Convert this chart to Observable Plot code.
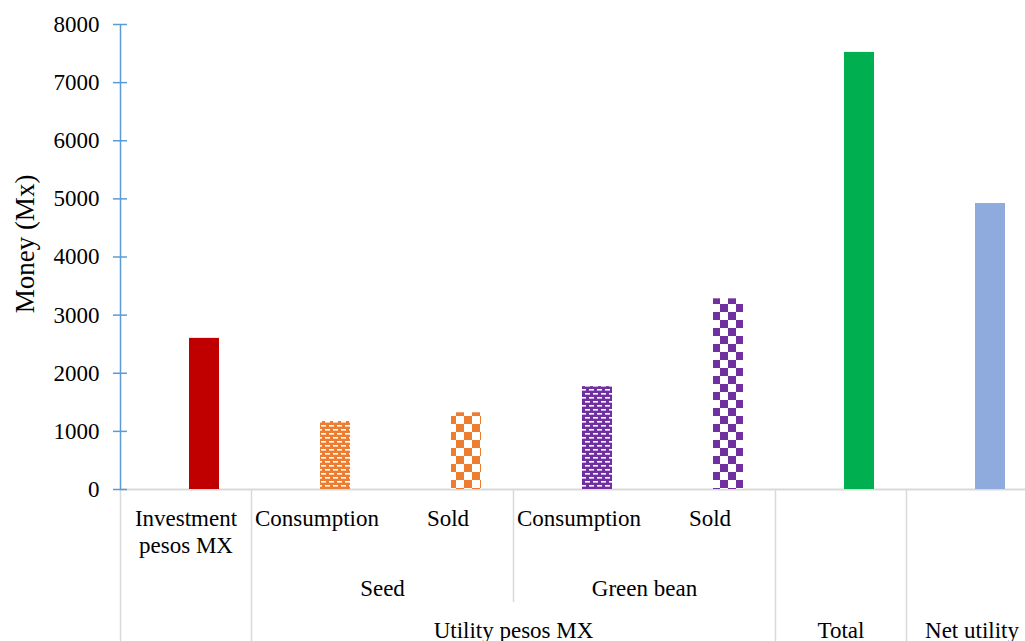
<!DOCTYPE html>
<html>
<head>
<meta charset="utf-8">
<script src="https://cdn.jsdelivr.net/npm/d3@7"></script>
<script src="https://cdn.jsdelivr.net/npm/@observablehq/plot@0.6"></script>
<style>
  html, body { margin: 0; padding: 0; background: white; overflow: hidden; }
  #chart { width: 1025px; height: 641px; }
</style>
</head>
<body>
<div id="chart"></div>
<script>
// ---- data ----
const categories = ["Investment pesos MX", "Seed Consumption", "Seed Sold", "Green bean Consumption", "Green bean Sold", "Total", "Net utility"];
const values = [2600, 1170, 1320, 1770, 3280, 7520, 4920];
const barFills = ["#C00000", "url(#brick-orange)", "url(#check-orange)", "url(#brick-purple)", "url(#check-purple)", "#00B050", "#8FAADC"];
const yTicks = [0, 1000, 2000, 3000, 4000, 5000, 6000, 7000, 8000];
const level1Labels = ["Investment\npesos MX", "Consumption", "Sold", "Consumption", "Sold"];
const level2Labels = ["Seed", "Green bean"];
const level2Start = [1, 3];
const level2End = [3, 5];
const level3Labels = ["Utility pesos MX", "Total", "Net utility"];
const level3Start = [1, 5, 6];
const level3End = [5, 6, 7];
const fullSeparators = [0, 1, 5, 6, 7];
const partialSeparators = [3];
const yTitle = "Money (Mx)";

const bars = categories.map((c, i) => ({category: c, i, value: values[i], fill: barFills[i]}));
const row1 = level1Labels.map((t, i) => ({text: t, pos: i + 0.5}));
const row2 = level2Labels.map((t, i) => ({text: t, pos: (level2Start[i] + level2End[i]) / 2}));
const row3 = level3Labels.map((t, i) => ({text: t, pos: (level3Start[i] + level3End[i]) / 2}));

const FONT = "'Liberation Serif', 'Times New Roman', serif";
const GRID = "#D9D9D9";
const AXIS = "#5B9BD5";

const svg = Plot.plot({
  width: 1025,
  height: 641,
  marginTop: 24,
  marginBottom: 152,
  marginLeft: 120,
  marginRight: 0,
  style: {fontFamily: FONT, fontSize: "23px", color: "black", background: "white"},
  x: {type: "linear", domain: [0, categories.length], range: [120, 120 + 131 * categories.length], axis: null},
  y: {domain: [0, 8000]},
  color: {type: "identity"},
  marks: [
    // category separators
    Plot.ruleX(fullSeparators, {x: d => d, y1: 0, y2: 0, insetBottom: -152, stroke: GRID, strokeWidth: 1.5}),
    Plot.ruleX(partialSeparators, {x: d => d, y1: 0, y2: 0, insetBottom: -113, stroke: GRID, strokeWidth: 1.5}),
    // baseline
    Plot.ruleY([0], {stroke: GRID, strokeWidth: 2}),
    // bars
    Plot.rect(bars, {x1: "i", x2: d => d.i + 1, y1: 0, y2: "value", fill: "fill", insetLeft: 69, insetRight: 32}),
    // y axis line and crossing ticks
    Plot.ruleX([0], {x: d => d, stroke: AXIS, strokeWidth: 1.5}),
    Plot.ruleY(yTicks, {y: d => d, x1: 0, x2: 0, insetLeft: -7, insetRight: -7, stroke: AXIS, strokeWidth: 1.5}),
    Plot.axisY({ticks: yTicks, tickSize: 0, tickPadding: 21, tickFormat: d => String(d), fill: "black", fontSize: 23, label: null}),
    // y title
    Plot.text([yTitle], {frameAnchor: "left", textAnchor: "middle", rotate: -90, dx: -95, dy: -13, fontSize: 27, fill: "black"}),
    // multi-level category labels
    Plot.text(row1, {x: "pos", text: "text", frameAnchor: "bottom", dy: 17, lineAnchor: "top", lineHeight: 1.17, fontSize: 23, fill: "black"}),
    Plot.text(row2, {x: "pos", text: "text", frameAnchor: "bottom", dy: 106, fontSize: 23, fill: "black"}),
    Plot.text(row3, {x: "pos", text: "text", frameAnchor: "bottom", dy: 148, fontSize: 23, fill: "black"})
  ]
});

// pattern definitions
const defs = d3.select(svg).insert("defs", ":first-child");
function brick(id, color) {
  const p = defs.append("pattern").attr("id", id).attr("patternUnits", "userSpaceOnUse")
    .attr("width", 8).attr("height", 8);
  p.append("rect").attr("width", 8).attr("height", 8).attr("fill", color);
  p.append("rect").attr("x", 1).attr("y", 1).attr("width", 5).attr("height", 1.6).attr("fill", "white");
  p.append("rect").attr("x", 5).attr("y", 5).attr("width", 5).attr("height", 1.6).attr("fill", "white");
  p.append("rect").attr("x", -3).attr("y", 5).attr("width", 5).attr("height", 1.6).attr("fill", "white");
}
function checker(id, color) {
  const p = defs.append("pattern").attr("id", id).attr("patternUnits", "userSpaceOnUse")
    .attr("width", 16).attr("height", 16);
  p.append("rect").attr("width", 16).attr("height", 16).attr("fill", "white");
  p.append("rect").attr("width", 8).attr("height", 8).attr("fill", color);
  p.append("rect").attr("x", 8).attr("y", 8).attr("width", 8).attr("height", 8).attr("fill", color);
}
brick("brick-orange", "#ED7D31");
checker("check-orange", "#ED7D31");
brick("brick-purple", "#7030A0");
checker("check-purple", "#7030A0");

document.getElementById("chart").appendChild(svg);
</script>
</body>
</html>
